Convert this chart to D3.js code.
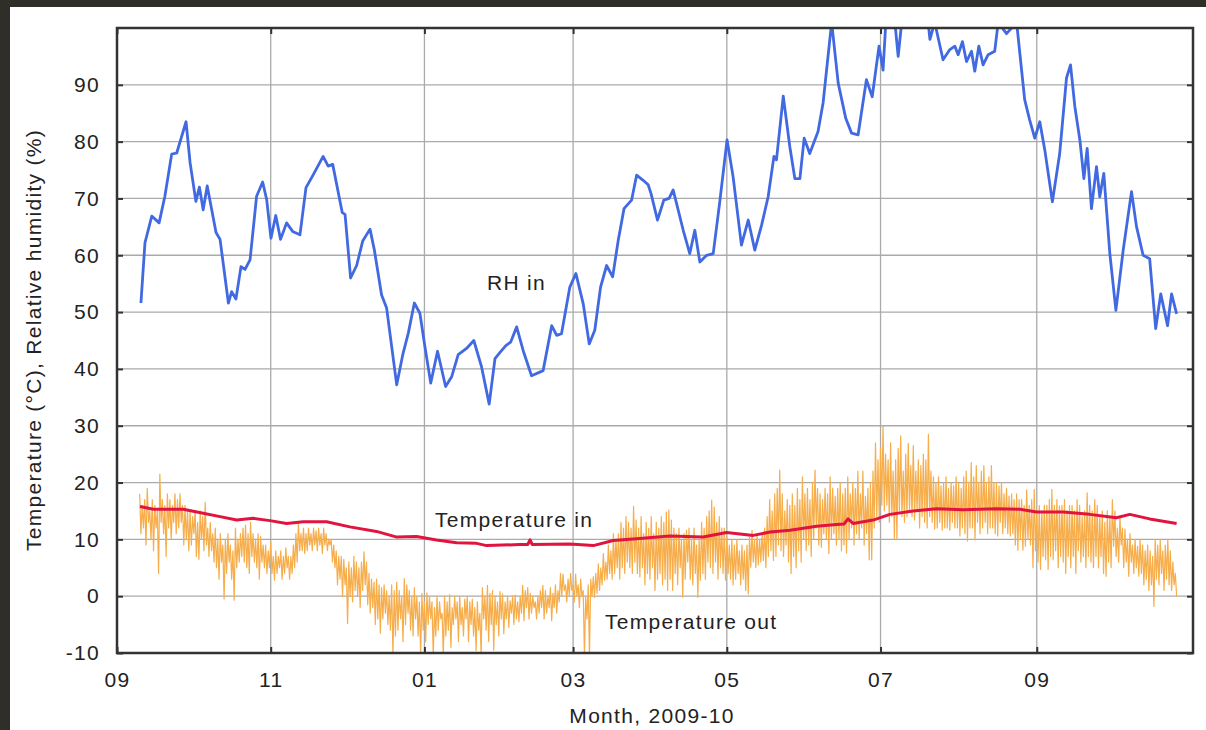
<!DOCTYPE html>
<html>
<head>
<meta charset="utf-8">
<script src="https://cdn.jsdelivr.net/npm/d3@7"></script>
<style>
  body { margin: 0; background: #2f2e29; }
  svg { display: block; }
  text { font-family: "Liberation Sans", Arial, sans-serif; fill: #222; letter-spacing: 1.3px; }
</style>
</head>
<body>
<div class="chart"></div>
<script>
// days are counted from 2009-09-01
const monthTicks = ['2009-09-01', '2009-11-01', '2010-01-01', '2010-03-01', '2010-05-01', '2010-07-01', '2010-09-01'];
const monthLabels = ['09', '11', '01', '03', '05', '07', '09'];
const yTicks = [-10, 0, 10, 20, 30, 40, 50, 60, 70, 80, 90];

const rhDays = [9.5, 11.1, 13.8, 16.7, 19.0, 21.7, 23.7, 27.4, 29.0, 31.3, 32.7, 34.2, 35.8, 39.3, 40.9, 44.2, 45.5, 47.2, 49.2, 50.8,
  52.8, 55.4, 57.8, 59.4, 61.1, 63.0, 64.9, 67.3, 69.7, 72.6, 75.0, 77.9, 81.8, 83.8, 85.6, 89.4, 90.5, 92.7, 95.1, 97.5,
  100.4, 102.1, 105.0, 107.0, 111.0, 113.4, 115.6, 118.0, 120.2, 122.2, 124.5, 127.2, 130.4, 132.8, 135.4, 138.7, 141.6, 144.7, 147.7, 150.0,
  152.0, 154.3, 156.2, 158.6, 161.2, 164.5, 169.1, 172.5, 174.5, 176.4, 179.7, 182.1, 185.0, 187.4, 189.6, 191.9, 194.3, 196.7, 198.9, 201.2,
  204.2, 206.2, 208.8, 210.8, 211.9, 214.5, 217.0, 219.1, 220.7, 224.7, 227.3, 229.3, 231.3, 234.0, 236.6, 239.2, 242.1, 244.5, 247.8, 250.5,
  253.1, 255.8, 258.4, 260.7, 261.7, 264.4, 267.0, 269.0, 271.0, 272.7, 274.9, 278.2, 280.2, 283.6, 286.2, 289.2, 291.5, 294.1, 297.4, 299.7,
  302.4, 304.0, 305.1, 308.7, 310.0, 311.4, 316.0, 321.9, 322.6, 324.5, 327.8, 330.5, 332.5, 333.8, 335.5, 337.1, 339.1, 340.4, 342.0, 343.7,
  345.7, 348.3, 349.7, 353.0, 357.0, 360.2, 362.2, 364.2, 366.2, 368.2, 371.2, 374.1, 376.8, 378.4, 380.1, 382.1, 383.7, 385.0, 386.7, 388.7,
  390.0, 391.6, 394.0, 396.4, 399.3, 402.6, 404.6, 407.2, 409.8, 412.2, 414.2, 416.9, 418.5, 420.5];
const rhValues = [51.6, 62.2, 66.9, 65.7, 70.4, 77.8, 78, 83.5, 76.3, 69.5, 72, 68, 72.2, 64, 62.8, 51.6, 53.6, 52.3, 58, 57.5,
  59.2, 70.4, 72.9, 69.8, 63, 67, 62.8, 65.7, 64.2, 63.6, 71.9, 74.2, 77.4, 75.7, 76, 67.5, 67.2, 56, 58.2, 62.5,
  64.6, 61, 53, 50.7, 37.2, 42.5, 46.3, 51.6, 49.8, 43.9, 37.5, 43.1, 36.9, 38.6, 42.5, 43.6, 45, 40.3, 33.8, 41.8,
  42.9, 44.1, 44.7, 47.4, 43.2, 38.8, 39.7, 47.6, 45.9, 46.2, 54.4, 56.8, 51.5, 44.4, 46.8, 54.4, 58.2, 56.2, 62.6, 68.2,
  69.7, 74.1, 73.2, 72.4, 70.9, 66.2, 69.7, 70, 71.5, 64.4, 60.3, 64.4, 58.8, 60, 60.3, 69.4, 80.3, 73.8, 61.8, 66.2,
  60.9, 65.3, 70.3, 77.4, 76.8, 88, 79.1, 73.5, 73.5, 80.6, 77.9, 81.8, 86.8, 101, 90.3, 84.1, 81.5, 81.2, 90.9, 87.9,
  96.8, 92.6, 101, 101, 95, 101, 101, 101, 98, 101, 94.4, 96.2, 96.8, 95.3, 97.6, 94.1, 95.9, 92.4, 96.8, 93.5,
  95.3, 95.9, 101, 99, 101, 87.4, 83.8, 80.6, 83.5, 78.5, 69.4, 77.9, 91.2, 93.5, 86.2, 80.3, 73.5, 78.8, 68.2, 75.6,
  70.3, 74.4, 60.3, 50.3, 60.9, 71.2, 65, 60, 59.4, 47.1, 53.2, 47.6, 53.2, 49.7];

const tinDays = [9.1, 14.4, 26.3, 34.2, 40.9, 47.5, 54.1, 60.7, 67.3, 73.9, 83.2, 92.4, 103.0, 111.0, 118.9, 126.8, 134.8, 142.7, 146.7, 159.9,
  163.0, 163.9, 164.8, 179.7, 189.0, 196.9, 206.2, 219.4, 232.6, 241.9, 252.5, 259.2, 267.1, 277.6, 285.5, 288.5, 290.1, 292.1, 300.1, 306.7,
  315.9, 325.2, 335.8, 349.0, 358.3, 364.9, 375.4, 386.0, 396.6, 401.9, 409.8, 420.5];
const tinValues = [15.8, 15.3, 15.3, 14.6, 14, 13.4, 13.7, 13.3, 12.8, 13.1, 13.1, 12.2, 11.4, 10.4, 10.5, 9.9, 9.4, 9.3, 8.9, 9.1,
  9.1, 9.9, 9.1, 9.2, 8.9, 9.8, 10.1, 10.6, 10.4, 11.2, 10.7, 11.3, 11.6, 12.3, 12.6, 12.7, 13.6, 12.8, 13.4, 14.4,
  15, 15.4, 15.2, 15.4, 15.3, 14.8, 14.8, 14.4, 13.8, 14.4, 13.6, 12.8];

// two readings a day (day high, night low), from day 9; one row = 10 days
const toutFirstDay = 9;
const toutStep = 0.5;
const toutValues = [
  18, 11, 16, 12, 17, 9, 19, 13, 15, 10, 17, 8, 16, 12, 15, 4, 21.5, 13, 17, 11,
  16, 7, 18, 12, 17, 10, 16, 13, 18, 11, 17, 12, 18, 13, 16, 9, 16, 10, 15, 8,
  15, 9, 14, 11, 15, 7, 13, 6.5, 15, 10, 14, 8, 16.5, 9, 12, 7, 13, 8, 11, 6,
  12, 5, 10, 3, 11, 6, 9, -0.5, 10, 4, 11, 6, 9, 3, 8, -0.7, 12, 5, 10, 6,
  11, 7, 12, 6, 12.5, 5, 11, 4, 13, 7, 11, 6, 10, 5, 11, 3, 10.5, 6, 9, 5,
  9, 4, 8, 5, 9.5, 4, 7, 2.8, 8, 4, 7, 5, 8, 3, 7, 4, 8.5, 5, 7, 3,
  7, 4, 9, 5, 11, 6, 12.8, 8, 11, 8, 12, 7.5, 11, 8, 12, 9, 11, 8, 12, 9,
  11.5, 8, 12, 9, 11, 7.5, 12, 9, 11, 8, 10, 9, 10, 6, 9, 5, 8, 2, 7, 3,
  7, 0, 6.5, 2, 5, -4.8, 6, 0, 5, -1, 7, 1, 6, 0, 5, -2, 6, 1, 7.8, 2,
  6, -1.5, 4, -3, 3, -2, 2.5, -5, 3, -4, 2, -6.5, 1.5, -4, 2, -3, 1, -5, 0, -6,
  2, -10.5, 1, -7, 2.5, -6, 1, -4, 0, -8, 3.1, -5, 2, -3, 1, -6, 0, -7, 1.5, -4,
  0, -7, -1, -10.5, 0.5, -6, -1, -8, 0.6, -5, 0, -4, -1, -10.5, -2, -7, 0, -6, -1, -4,
  -3, -10.5, 0, -7, -1, -6, 0.3, -9, -2, -5, 0, -4, -1, -8, 0, -5, -2, -7, -0.5, -4,
  0, -8, -1, -5, -0.5, -7, -2, -9.6, -1, -6, -3, -10.5, 1.5, -4, 0, -6, 1.9, -8, 0.5, -5,
  1, -9.5, 0, -5, -1, -7, 0.8, -4, 0.4, -6.6, -1, -4, 0, -5.5, -0.8, -3, 0, -5, 0.2, -4,
  -1, -4.5, 0, -3, 1.9, -4.3, 1, -2, 1.5, -4, 0.5, -3, 0, -2, -1, -4, 0, -3, 1, -2,
  1.9, -4, 1, -3, 0, -2, 1.5, -4.3, 0.5, -2, 2, -3, 1, -1, 4, 0, 3.9, 1, 2, -1,
  3, 0, 4, 1, 2, -1, 3.9, 0, 2, -2, 3, 0, 1, -10.5, 0, -4, 2, -10.5, 3, 0,
  3.4, -0.2, 4, 0.5, 5.7, 1, 5, 2, 7.5, 2.8, 6, 3, 9, 4, 8, 3, 11, 4, 10, 5,
  11, 3, 13, 5, 12, 4, 14, 6, 13, 5, 12, 4, 15.8, 6, 13.4, 4, 12, 3.4, 14, 5,
  11, 2, 13, 4, 12, 3, 14, 5, 11, 1, 13, 3, 12, 4, 14, 2, 13, 3, 14.8, 1,
  15.2, 3, 13.4, 1, 12, 4, 11, 2, 12, 5, 10, -0.2, 11, 3, 11.6, 6, 12, 3, 10, 2,
  12, 4, 9, -0.2, 10, 2.8, 13, 4, 12, 3, 14, 6, 15, 5, 16.9, 4, 15.7, 6, 13, 3,
  14, 5, 12, 4, 12, 2.8, 10.4, 4, 9, 3, 10, 2, 9, 3, 10, 4, 8, 2, 9, 3,
  8, 1, 9, 0.4, 10.4, 5.1, 11.6, 6, 10, 5, 11, 5.5, 10, 6, 11, 6.3, 12, 5, 14, 7,
  17, 8, 15, 6.3, 18, 7, 19, 9, 22.2, 8, 18, 7, 15, 9, 17, 6, 16, 4, 18, 7,
  16, 5, 19, 8, 17, 6, 21, 10, 18, 8, 19, 9, 17, 7, 20, 10, 22.2, 12, 19, 9,
  18, 8.6, 17, 11, 19, 10, 18, 7.5, 21, 10, 19, 11, 17.6, 9, 19, 10, 20, 8, 18, 9,
  19, 7.6, 21, 10, 18, 12, 20, 9, 19, 11, 22, 10, 18, 12, 22, 9, 17.6, 11, 19, 6.4,
  20, 6.4, 22, 12, 27, 14, 24, 13, 26, 16, 30, 15, 25, 16, 24, 13, 27, 14, 22, 10,
  24, 10, 26, 15, 28.2, 14, 22, 13, 25, 14, 26.9, 15, 23, 14, 26.5, 13.4, 22, 15, 24, 12,
  23, 14, 25, 13, 24, 12, 28.5, 14, 22, 13, 21, 11.8, 20, 12, 21, 13, 19.4, 11.6, 20, 12,
  21, 12, 19, 11.6, 20, 13, 19.4, 12, 21, 12, 20, 10.6, 19, 12, 21, 11, 22, 9.7, 20, 12,
  23.5, 12, 21, 9.9, 23, 13, 20, 11, 22, 12, 23, 13, 20, 11, 21, 12, 23, 12, 20, 11,
  20, 10.6, 19.4, 13, 20, 11, 18, 12, 19, 11, 17.6, 10.6, 18, 11, 17, 9, 18, 8.1, 17, 10,
  17, 8.1, 16, 8.8, 18.7, 10, 16, 9, 17, 5, 18.8, 8, 15, 6, 16, 4.7, 15, 7, 16, 6.4,
  16, 4.7, 17, 7, 18.8, 6.4, 16, 8, 17, 5, 15.9, 7, 16, 6, 17, 4, 15, 7, 16, 5,
  16, 7, 15, 4, 17, 8, 16, 6, 14, 7, 15, 5, 18.2, 7, 16, 6, 15, 5, 17, 7,
  16, 5, 14, 7, 15, 4, 13, 3.5, 15, 6, 14, 5, 17, 8.8, 15, 7, 12, 6, 14, 9,
  12, 5, 11.8, 6, 10, 3.5, 11, 6, 9, 4, 10, 5, 8.8, 3.5, 10, 4, 9, 2, 8, 3,
  9, 1, 8, 2, 7, -1.8, 10, 3, 9, 2, 10, 4, 8, 1, 9, 3, 10, 2, 8, 1,
  6, 2, 4, 0];

const w = 1206;
const h = 730;
const plot = { left: 117, right: 1193, top: 28, bottom: 653 };
const start = Date.UTC(2009, 8, 1);
const dayDate = (d) => new Date(start + d * 864e5);

const xScale = d3.scaleUtc()
  .domain([new Date(start), new Date(Date.UTC(2010, 10, 2))])
  .range([plot.left, plot.right]);
const yScale = d3.scaleLinear()
  .domain([-10, 100])
  .range([plot.bottom, plot.top]);

const tickDates = monthTicks.map((d) => new Date(d + 'T00:00:00Z'));
const labelOf = (d) => monthLabels[tickDates.findIndex((t) => +t === +d)];

const svg = d3.select('.chart')
  .append('svg')
  .attr('width', w)
  .attr('height', h);

svg.append('rect')
  .attr('x', 10).attr('y', 7)
  .attr('width', w - 10).attr('height', h - 7)
  .attr('fill', '#fff');

svg.append('clipPath').attr('id', 'clip')
  .append('rect')
  .attr('x', plot.left).attr('y', plot.top)
  .attr('width', plot.right - plot.left).attr('height', plot.bottom - plot.top);

// grid
svg.append('g')
  .selectAll('line')
  .data(yTicks.slice(1))
  .join('line')
  .attr('x1', plot.left).attr('x2', plot.right)
  .attr('y1', (d) => yScale(d)).attr('y2', (d) => yScale(d))
  .attr('stroke', '#aaa').attr('stroke-width', 1.3);
svg.append('g')
  .selectAll('line')
  .data(tickDates.slice(1))
  .join('line')
  .attr('x1', (d) => xScale(d)).attr('x2', (d) => xScale(d))
  .attr('y1', plot.top).attr('y2', plot.bottom)
  .attr('stroke', '#aaa').attr('stroke-width', 1.3);

const lines = svg.append('g').attr('clip-path', 'url(#clip)');

const toutLine = d3.line()
  .x((d, i) => xScale(dayDate(toutFirstDay + i * toutStep)))
  .y((d) => yScale(d));
lines.append('path')
  .attr('d', toutLine(toutValues))
  .attr('fill', 'none')
  .attr('stroke', '#f6ad4a')
  .attr('stroke-width', 1.2)
  .attr('stroke-linejoin', 'round');

const pairLine = d3.line()
  .x((d) => xScale(dayDate(d[0])))
  .y((d) => yScale(d[1]));
lines.append('path')
  .attr('d', pairLine(d3.zip(tinDays, tinValues)))
  .attr('fill', 'none')
  .attr('stroke', '#e0143f')
  .attr('stroke-width', 3)
  .attr('stroke-linejoin', 'round');
lines.append('path')
  .attr('d', pairLine(d3.zip(rhDays, rhValues)))
  .attr('fill', 'none')
  .attr('stroke', '#4169e1')
  .attr('stroke-width', 2.8)
  .attr('stroke-linejoin', 'round');

// axes on all four sides, ticks pointing in
const styleAxis = (g) => {
  g.select('.domain').remove();
  g.selectAll('.tick line').attr('stroke-width', 2);
  g.selectAll('.tick text').style('font-size', '21px');
};

svg.append('g')
  .attr('color', '#333')
  .attr('transform', `translate(0, ${plot.bottom})`)
  .call(d3.axisBottom(xScale).tickValues(tickDates).tickFormat(labelOf)
    .tickSizeInner(-6).tickSizeOuter(0).tickPadding(19))
  .call(styleAxis);
svg.append('g')
  .attr('color', '#333')
  .attr('transform', `translate(0, ${plot.top})`)
  .call(d3.axisTop(xScale).tickValues(tickDates).tickFormat('')
    .tickSizeInner(-6).tickSizeOuter(0))
  .call(styleAxis);
svg.append('g')
  .attr('color', '#333')
  .attr('transform', `translate(${plot.left}, 0)`)
  .call(d3.axisLeft(yScale).tickValues(yTicks).tickFormat((d) => String(d))
    .tickSizeInner(-6).tickSizeOuter(0).tickPadding(17))
  .call(styleAxis);
svg.append('g')
  .attr('color', '#333')
  .attr('transform', `translate(${plot.right}, 0)`)
  .call(d3.axisRight(yScale).tickValues(yTicks).tickFormat('')
    .tickSizeInner(-6).tickSizeOuter(0))
  .call(styleAxis);

svg.selectAll('.tick text').attr('fill', '#222');

svg.append('rect')
  .attr('x', plot.left).attr('y', plot.top)
  .attr('width', plot.right - plot.left).attr('height', plot.bottom - plot.top)
  .attr('fill', 'none')
  .attr('stroke', '#333')
  .attr('stroke-width', 2.5);

// labels
const label = (x, y, t, anchor) => svg.append('text')
  .attr('x', x).attr('y', y)
  .attr('text-anchor', anchor || 'start')
  .style('font-size', '21px')
  .text(t);

label(487, 290, 'RH in');
label(435, 527, 'Temperature in');
label(605, 629, 'Temperature out');
label(652, 723, 'Month, 2009-10', 'middle');
label(0, 0, 'Temperature (°C), Relative humidity (%)', 'middle')
  .attr('transform', 'translate(41, 340) rotate(-90)');
</script>
</body>
</html>
